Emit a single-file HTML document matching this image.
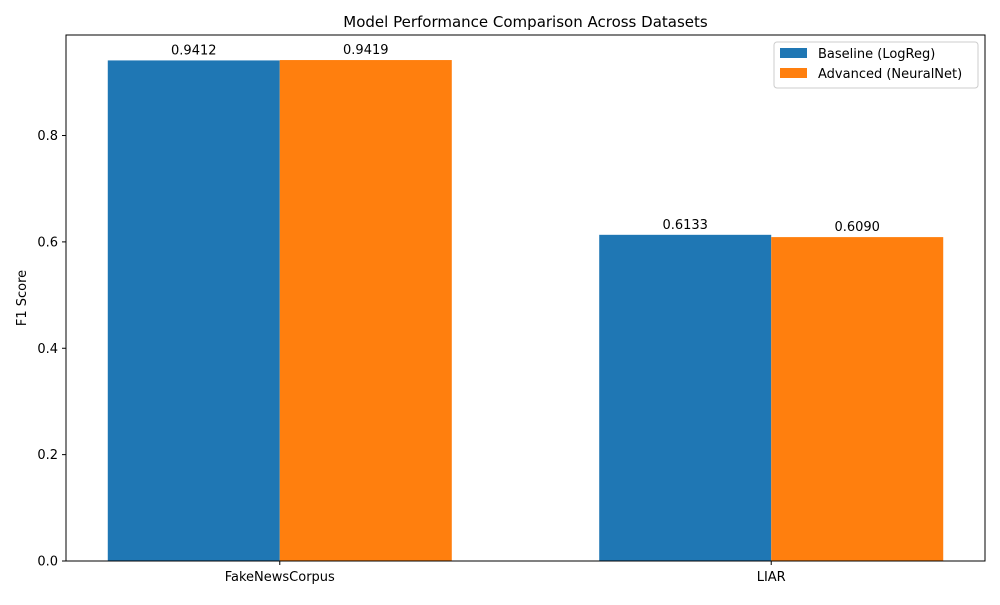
<!DOCTYPE html>
<html><head><meta charset="utf-8"><style>
body{margin:0;background:#fff;font-family:"Liberation Sans","DejaVu Sans",sans-serif;}
svg text{font-family:"DejaVu Sans","Liberation Sans",sans-serif;}
</style></head><body>
<svg id="chart" width="1000" height="600" xmlns="http://www.w3.org/2000/svg">
<text x="525.5" y="27" text-anchor="middle" font-size="15" fill="#000">Model Performance Comparison Across Datasets</text>
<g id="plot"></g>
</svg>
<script>
const categories = ["FakeNewsCorpus", "LIAR"];
const seriesNames = ["Baseline (LogReg)", "Advanced (NeuralNet)"];
const baseline = [0.9412, 0.6133];
const advanced = [0.9419, 0.6090];
const yTicks = [0.0, 0.2, 0.4, 0.6, 0.8];
const colors = ["#1f77b4", "#ff7f0e"];

const L=66, R=985, T=35, B=561;
const xMin=-0.435, xMax=1.435, yMax=0.989;
const xs = v => L + (v - xMin) / (xMax - xMin) * (R - L);
const ys = v => B - v / yMax * (B - T);
const NS="http://www.w3.org/2000/svg";
const g=document.getElementById('plot');
function mk(tag, attrs, parent){const e=document.createElementNS(NS,tag);for(const k in attrs)e.setAttribute(k,attrs[k]);(parent||g).appendChild(e);return e;}

const series=[baseline, advanced];
const w=0.35;
series.forEach((vals,si)=>{
  vals.forEach((v,ci)=>{
    const x0 = ci + (si===0 ? -w : 0);
    const r=mk('rect',{x:xs(x0),y:ys(v),width:xs(x0+w)-xs(x0),height:ys(0)-ys(v),fill:colors[si]});
    
    
    const t=mk('text',{x:xs(x0+w/2),y:ys(v)-6,'text-anchor':'middle','font-size':'13',fill:'#000'});
    t.textContent=v.toFixed(4);
    
    
  });
});

// axes frame
const fr=mk('rect',{x:L,y:T,width:R-L,height:B-T,fill:'none',stroke:'#000','stroke-width':1});



yTicks.forEach(v=>{
  mk('line',{x1:L-4,x2:L,y1:ys(v),y2:ys(v),stroke:'#000'});
  const t=mk('text',{x:L-8,y:ys(v)+4.5,'text-anchor':'end','font-size':'13',fill:'#000'});
  t.textContent=v.toFixed(1);
  
  
});
categories.forEach((c,i)=>{
  mk('line',{x1:xs(i),x2:xs(i),y1:B,y2:B+4,stroke:'#000'});
  const t=mk('text',{x:xs(i),y:B+20,'text-anchor':'middle','font-size':'13',fill:'#000'});
  t.textContent=c;
  
  
});
const yl=mk('text',{x:26,y:(T+B)/2,'text-anchor':'middle','font-size':'13',fill:'#000',transform:'rotate(-90 26 '+((T+B)/2)+')'});
yl.textContent='F1 Score';



// legend
const lg=mk('g',{});


mk('rect',{x:774,y:42,width:204,height:46,fill:'#fff',stroke:'#ccc',rx:3},lg);
seriesNames.forEach((n,i)=>{
  const sw=mk('rect',{x:780,y:48+i*20,width:27,height:10,fill:colors[i]},lg);
  
  
  const t=mk('text',{x:818,y:58+i*20,'font-size':'13',fill:'#000'},lg);
  t.textContent=n;
  
  
});
</script>
</body></html>
